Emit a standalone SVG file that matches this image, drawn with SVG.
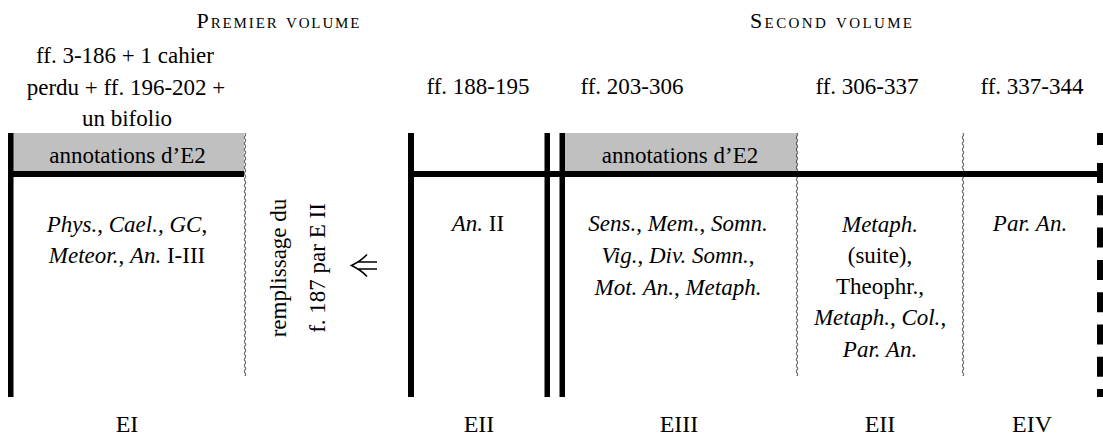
<svg xmlns="http://www.w3.org/2000/svg" width="1103" height="435" viewBox="0 0 1103 435">
<style>
text{font-family:'Liberation Serif',serif;font-size:23px;fill:#000;text-anchor:middle}
.i{font-style:italic}
.sc{font-variant:small-caps;font-size:22px}
.lbl{font-size:24px}
.bar{fill:#000}
.gray{fill:#c0c0c0}
.wave{fill:none;stroke:#222;stroke-width:0.9}
.arr{fill:none;stroke:#000;stroke-width:1.6}
</style>
<defs>
<path id="wave" class="wave" d="M0 0q1.3 1.5 0 3t0 3t0 3t0 3t0 3t0 3t0 3t0 3t0 3t0 3t0 3t0 3t0 3t0 3t0 3t0 3t0 3t0 3t0 3t0 3t0 3t0 3t0 3t0 3t0 3t0 3t0 3t0 3t0 3t0 3t0 3t0 3t0 3t0 3t0 3t0 3t0 3t0 3t0 3t0 3t0 3t0 3t0 3t0 3t0 3t0 3t0 3t0 3t0 3t0 3t0 3t0 3t0 3t0 3t0 3t0 3t0 3t0 3t0 3t0 3t0 3t0 3t0 3t0 3t0 3t0 3t0 3t0 3t0 3t0 3t0 3t0 3t0 3t0 3t0 3t0 3t0 3t0 3t0 3t0 3t0 3"/>
</defs>

<g id="headers">
<text class="sc" transform="translate(278 28)" textLength="163" lengthAdjust="spacing">Premier volume</text>
<text class="sc" transform="translate(831 28)" textLength="162" lengthAdjust="spacing">Second volume</text>
</g>

<g id="col-EI">
<text transform="translate(125 63)">ff. 3-186 + 1 cahier</text>
<text transform="translate(126 95)">perdu + ff. 196-202 +</text>
<text transform="translate(127 126)">un bifolio</text>
<rect class="gray" x="13" y="133" width="231" height="38"/>
<text transform="translate(127.5 163)">annotations d’E2</text>
<rect class="bar" x="8" y="133" width="5.5" height="264"/>
<rect class="bar" x="8" y="171" width="236" height="6"/>
<use href="#wave" x="245" y="133"/>
<text transform="translate(127 232)"><tspan class="i">Phys.</tspan>, <tspan class="i">Cael.</tspan>, <tspan class="i">GC</tspan>,</text>
<text transform="translate(127 263)"><tspan class="i">Meteor.</tspan>, <tspan class="i">An.</tspan> I-III</text>
<text class="lbl" transform="translate(127 432)">EI</text>
</g>

<g id="filler">
<text transform="translate(286 268) rotate(-90)">remplissage du</text>
<text transform="translate(325 268) rotate(-90)">f. 187 par E II</text>
</g>

<g id="col-EII">
<text transform="translate(478 94)">ff. 188-195</text>
<rect class="bar" x="408" y="133" width="6" height="264"/>
<text transform="translate(478 231)"><tspan class="i">An.</tspan> II</text>
<text class="lbl" transform="translate(479 432)">EII</text>
</g>

<g id="col-EIII">
<text transform="translate(632 94)">ff. 203-306</text>
<rect class="gray" x="565" y="133" width="232" height="38"/>
<text transform="translate(680 163)">annotations d’E2</text>
<rect class="bar" x="544.5" y="133" width="5.5" height="264"/>
<rect class="bar" x="559.5" y="133" width="5.5" height="264"/>
<text transform="translate(678 231)"><tspan class="i">Sens.</tspan>, <tspan class="i">Mem.</tspan>, <tspan class="i">Somn.</tspan></text>
<text transform="translate(678 263)"><tspan class="i">Vig.</tspan>, <tspan class="i">Div. Somn.</tspan>,</text>
<text transform="translate(678 295)"><tspan class="i">Mot. An.</tspan>, <tspan class="i">Metaph.</tspan></text>
<text class="lbl" transform="translate(679 432)">EIII</text>
</g>

<g id="col-EII-2">
<text transform="translate(867 94)">ff. 306-337</text>
<use href="#wave" x="797" y="133"/>
<text class="i" transform="translate(880 232)">Metaph.</text>
<text transform="translate(880 263)">(suite),</text>
<text transform="translate(880 294)">Theophr.,</text>
<text transform="translate(880 325)"><tspan class="i">Metaph.</tspan>, <tspan class="i">Col.</tspan>,</text>
<text class="i" transform="translate(880 357)">Par. An.</text>
<text class="lbl" transform="translate(880 432)">EII</text>
</g>

<g id="col-EIV">
<text transform="translate(1032 94)">ff. 337-344</text>
<use href="#wave" x="963" y="133"/>
<text class="i" transform="translate(1030 231)">Par. An.</text>
<rect class="bar" x="1097" y="133" width="6" height="12"/>
<path d="M1100 163V397" stroke="#000" stroke-width="6" stroke-dasharray="20 12.3"/>
<text class="lbl" transform="translate(1032 432)">EIV</text>
</g>

<g id="connectors">
<rect class="bar" x="408" y="171" width="692" height="6"/>
<path class="arr" d="M357 262H377M357 269H377M367 254.5Q361 261 351.5 265.5Q361 270 367 276.5"/>
</g>
</svg>
